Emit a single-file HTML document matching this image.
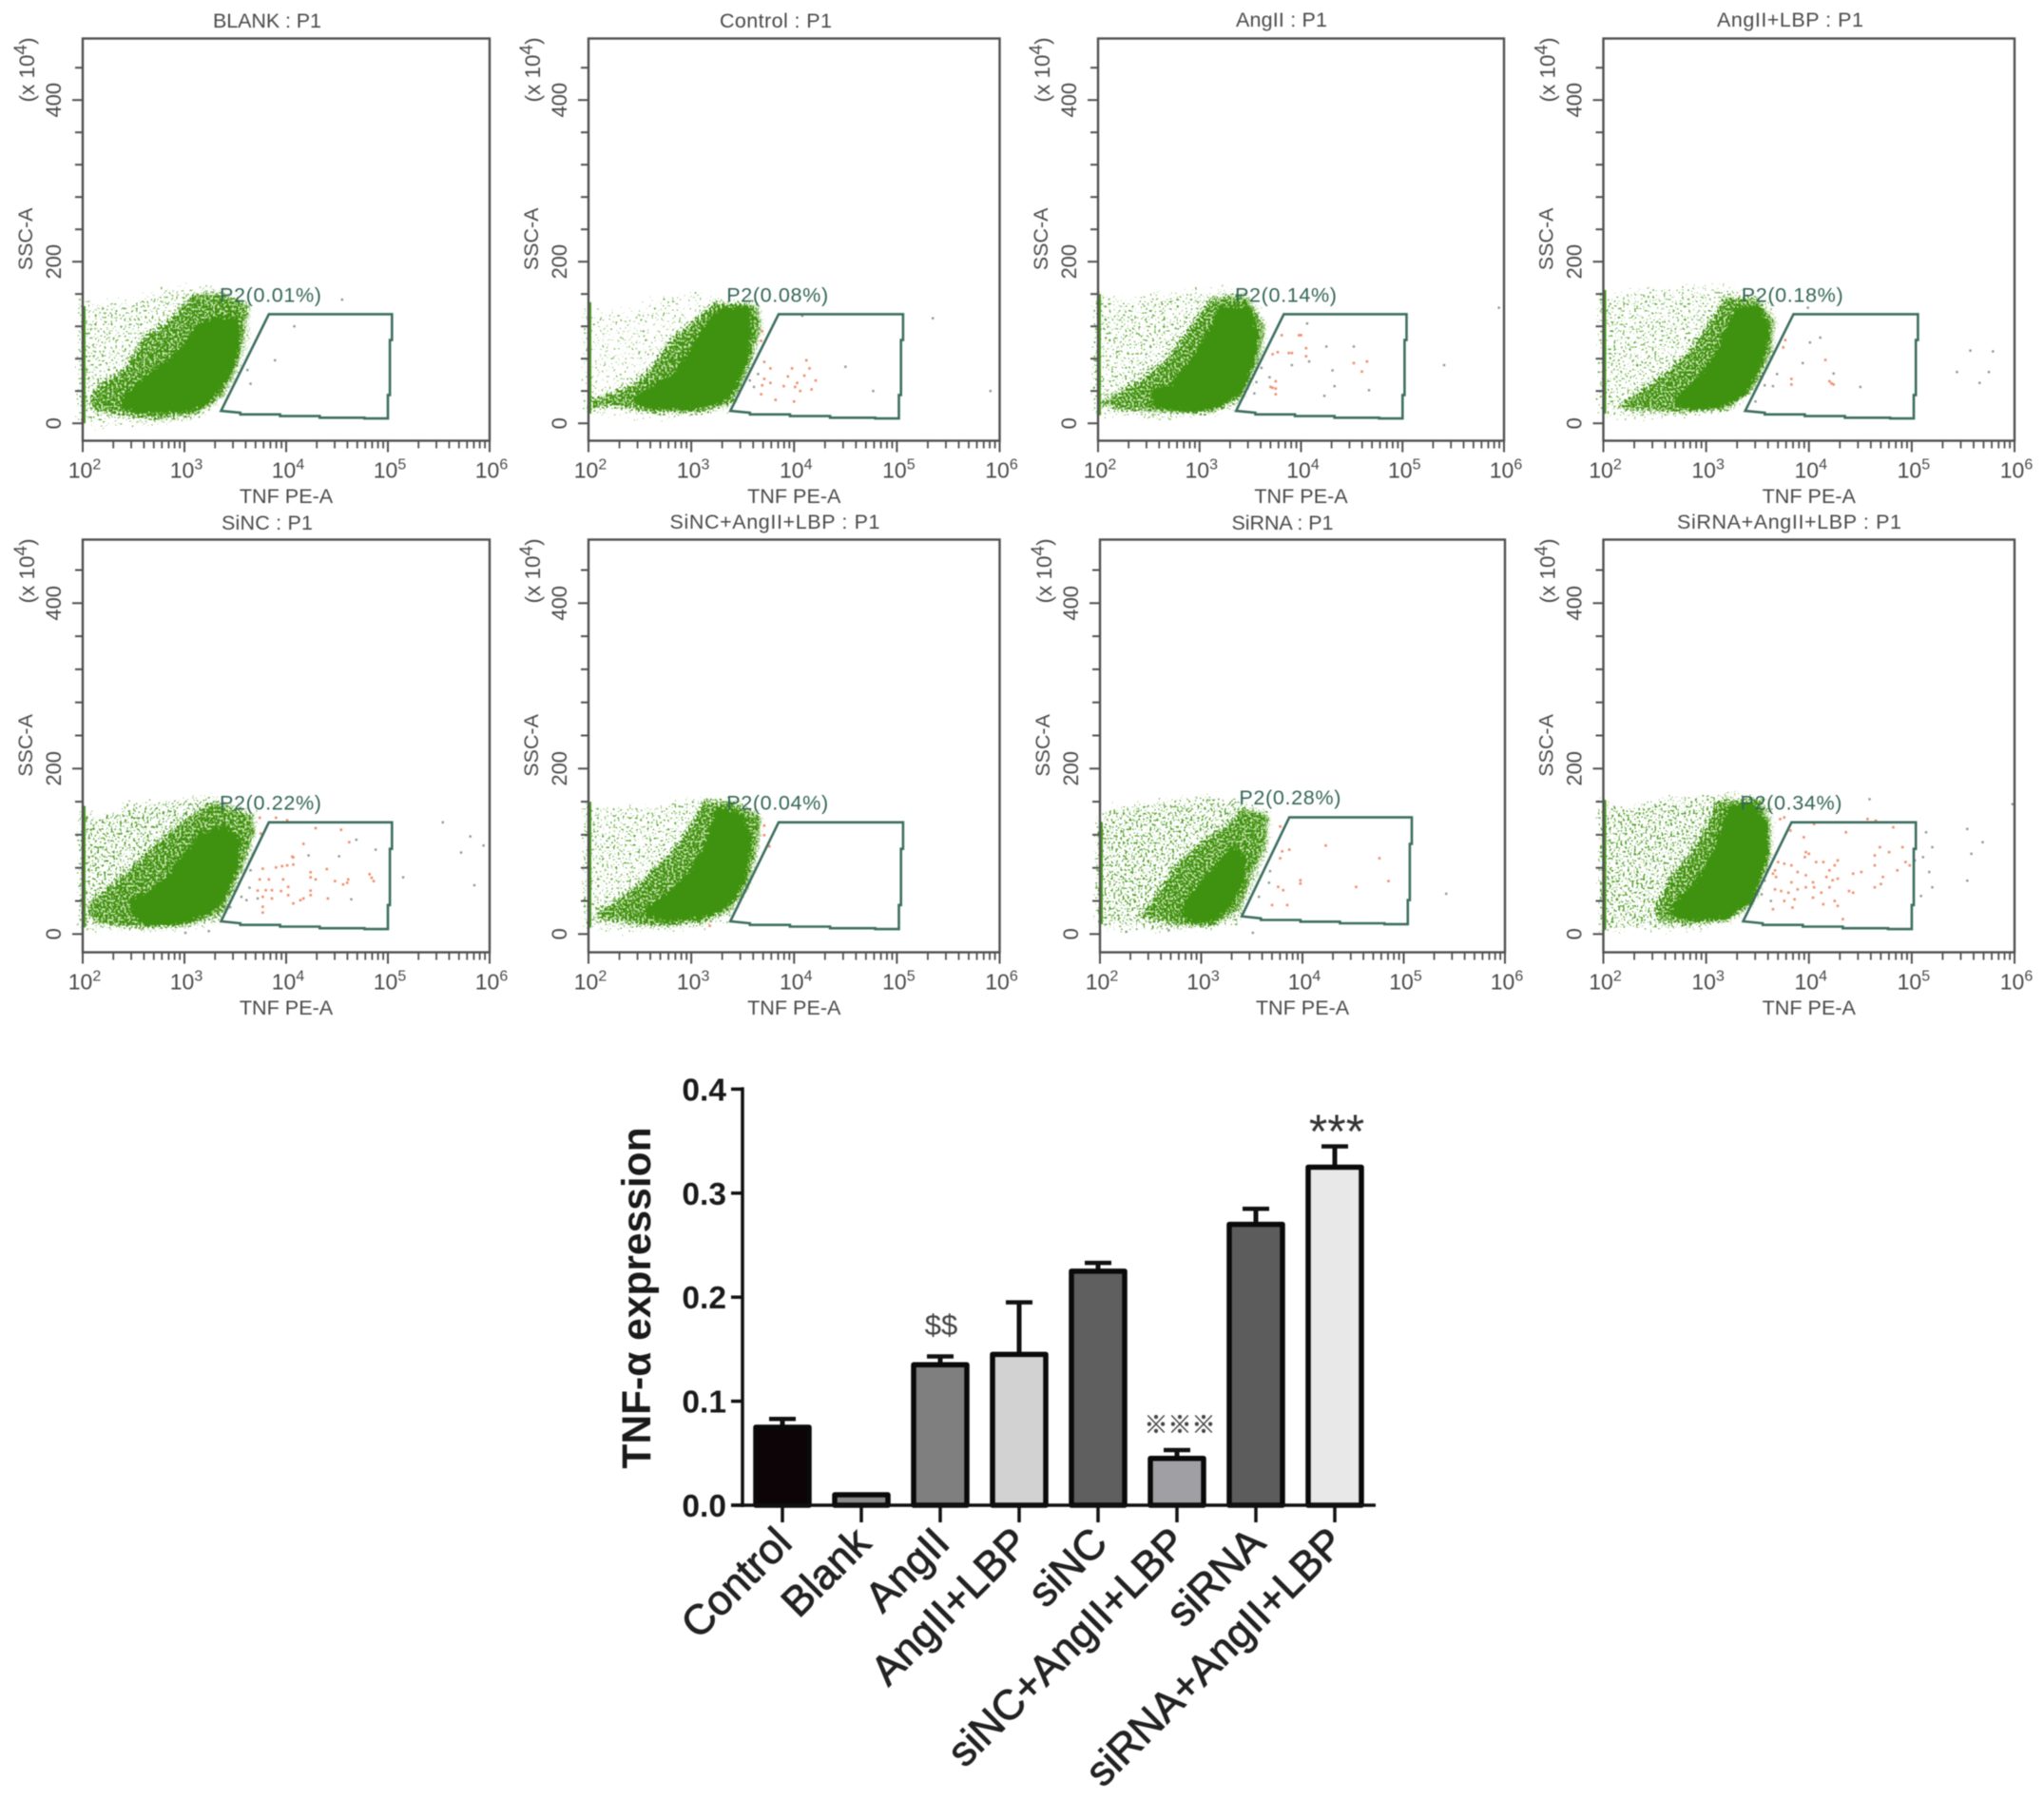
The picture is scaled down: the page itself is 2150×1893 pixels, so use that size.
<!DOCTYPE html>
<html lang="en">
<head>
<meta charset="utf-8">
<title>TNF-α flow cytometry panels and expression chart</title>
<style>
html,body{margin:0;padding:0;background:#fff;width:2150px;height:1893px;overflow:hidden}
#figure{display:block;filter:blur(0.65px)}
text{font-family:"Liberation Sans","Noto Sans CJK SC",sans-serif}
</style>
</head>
<body>
<svg id="figure" xmlns="http://www.w3.org/2000/svg" width="2150" height="1893" viewBox="0 0 2150 1893">
<defs>
<filter id="cloud-low" x="-10%" y="-15%" width="120%" height="130%" color-interpolation-filters="sRGB">
<feTurbulence type="fractalNoise" baseFrequency="0.42" numOctaves="2" seed="7" result="noise"/>
<feDisplacementMap in="SourceGraphic" in2="noise" scale="26" xChannelSelector="R" yChannelSelector="G" result="shape"/>
<feColorMatrix in="noise" type="matrix" values="0 0 0 0 .36  0 0 0 0 .66  0 0 0 0 .2  18 0 0 0 -11.9" result="dots"/>
<feComposite in="dots" in2="shape" operator="in"/>
</filter>
<filter id="cloud-medium" x="-10%" y="-15%" width="120%" height="130%" color-interpolation-filters="sRGB">
<feTurbulence type="fractalNoise" baseFrequency="0.42" numOctaves="2" seed="11" result="noise"/>
<feDisplacementMap in="SourceGraphic" in2="noise" scale="26" xChannelSelector="R" yChannelSelector="G" result="shape"/>
<feColorMatrix in="noise" type="matrix" values="0 0 0 0 .36  0 0 0 0 .66  0 0 0 0 .2  18 0 0 0 -11.1" result="dots"/>
<feComposite in="dots" in2="shape" operator="in"/>
</filter>
<filter id="cloud-high" x="-10%" y="-15%" width="120%" height="130%" color-interpolation-filters="sRGB">
<feTurbulence type="fractalNoise" baseFrequency="0.42" numOctaves="2" seed="19" result="noise"/>
<feDisplacementMap in="SourceGraphic" in2="noise" scale="26" xChannelSelector="R" yChannelSelector="G" result="shape"/>
<feColorMatrix in="noise" type="matrix" values="0 0 0 0 .33  0 0 0 0 .63  0 0 0 0 .17  18 0 0 0 -10.3" result="dots"/>
<feComposite in="dots" in2="shape" operator="in"/>
</filter>
<filter id="cloud-mid" x="-10%" y="-15%" width="120%" height="130%" color-interpolation-filters="sRGB">
<feTurbulence type="fractalNoise" baseFrequency="0.45" numOctaves="2" seed="23" result="noise"/>
<feDisplacementMap in="SourceGraphic" in2="noise" scale="20" xChannelSelector="R" yChannelSelector="G" result="shape"/>
<feFlood flood-color="#cfe6b8" result="pale"/>
<feComposite in="pale" in2="shape" operator="in" result="paleShape"/>
<feColorMatrix in="noise" type="matrix" values="0 0 0 0 .25  0 0 0 0 .57  0 0 0 0 .06  18 0 0 0 -7.4" result="dots"/>
<feComposite in="dots" in2="shape" operator="in" result="dotShape"/>
<feMerge><feMergeNode in="paleShape"/><feMergeNode in="dotShape"/></feMerge>
</filter>
<filter id="cloud-core" x="-10%" y="-15%" width="120%" height="130%" color-interpolation-filters="sRGB">
<feTurbulence type="fractalNoise" baseFrequency="0.4" numOctaves="2" seed="31" result="noise"/>
<feDisplacementMap in="SourceGraphic" in2="noise" scale="12" xChannelSelector="R" yChannelSelector="G"/>
</filter>
</defs>
<g id="panels"></g>
<g id="bars"></g>
</svg>
<script>
/* ---------- flow cytometry data: x = log10(TNF PE-A), y = SSC-A (x10^4) ---------- */
const panelTitles = ["BLANK : P1","Control : P1","AngII : P1","AngII+LBP : P1","SiNC : P1","SiNC+AngII+LBP : P1","SiRNA : P1","SiRNA+AngII+LBP : P1"];
const gatePercents = ["0.01","0.08","0.14","0.18","0.22","0.04","0.28","0.34"];
const xTickPowers = [2,3,4,5,6];
const yTickLabels = [0,200,400];
const yMinorStep = [0,40,80,120,160,200,240,280,320,360,400,440];
const xMinorMultipliers = [2,3,4,5,6,7,8,9];
const gateBase = [[3.83,135],[5.04,135],[5.04,103],[5.02,103],[5.02,35],[5.00,35],[5.00,6],[4.77,6],[4.77,7],[4.33,7],[4.33,9],[3.94,9],[3.94,11],[3.55,11],[3.55,13],[3.36,15.4]];
const gateShiftX = [0,0.02,0,0.02,0,0.02,0.04,0];
const gateShiftY = [0,0,0,0,0,0,6,0];
const speckleLevels = ["medium","low","medium","medium","high","medium","high","high"];
const edgeSpans = [[0,145],[12,150],[10,160],[12,165],[8,155],[8,160],[12,135],[5,162]];

const coreOutlines = [
 [[2.38,29.6],[2.54,50],[2.80,74],[2.99,94],[3.12,119],[3.31,131],[3.51,129],[3.54,102.5],[3.49,74],[3.38,50],[3.25,27.5],[3.09,17],[2.80,14],[2.54,15],[2.40,19]],
 [[2.46,33],[2.62,45],[2.84,61],[2.97,88],[3.13,120],[3.29,141],[3.55,143],[3.58,112],[3.53,76],[3.42,41],[3.29,25.5],[2.97,18.4],[2.62,18.4],[2.46,27.5]],
 [[2.54,41],[2.72,47],[2.91,76],[3.11,116],[3.20,143],[3.49,143],[3.57,108],[3.53,76],[3.40,37],[3.20,21.5],[2.95,15],[2.56,19.6]],
 [[2.70,29],[2.90,53],[3.12,88],[3.25,131],[3.32,143],[3.53,143],[3.61,112],[3.54,76],[3.38,37],[3.15,21.5],[2.90,17.6],[2.74,21.5]],
 [[2.48,41],[2.64,48.7],[2.83,68],[2.99,95],[3.15,121],[3.41,129],[3.54,114],[3.51,79],[3.38,41],[3.19,22],[2.93,12],[2.61,12],[2.49,25.7]],
 [[2.55,29.5],[2.78,48.7],[2.97,71.6],[3.13,106],[3.26,152],[3.49,144],[3.58,114],[3.52,68],[3.39,37],[3.16,22],[2.78,16],[2.59,22]],
 [[2.83,37],[2.99,60],[3.18,87],[3.31,106],[3.44,91],[3.41,64],[3.28,33],[3.12,18],[2.93,14],[2.83,22]],
 [[2.66,32],[2.86,56],[3.02,85],[3.15,121],[3.21,153],[3.44,157],[3.59,133],[3.59,93],[3.44,40],[3.21,20],[2.89,18],[2.70,22]]
];
const midOutlines = [
 [[2.06,25.5],[2.15,46],[2.41,66],[2.61,106.5],[2.86,127],[3.09,159],[3.35,161],[3.64,147],[3.59,102.5],[3.51,66],[3.38,33.6],[3.12,11],[2.73,5],[2.38,11],[2.12,17]],
 [[2.02,29],[2.23,37],[2.46,49],[2.62,69],[2.81,104],[3.07,131],[3.23,149],[3.65,147],[3.68,116],[3.58,73],[3.42,25.5],[3.10,14],[2.62,14],[2.23,22],[2.02,18]],
 [[2.01,25.5],[2.14,33],[2.46,57],[2.69,80],[2.91,120],[3.14,155],[3.46,159],[3.65,120],[3.59,80],[3.43,33],[3.14,14],[2.65,14],[2.17,18]],
 [[2.15,21.5],[2.38,41],[2.64,65],[2.86,92],[3.03,123],[3.19,155],[3.48,155],[3.67,127],[3.64,88],[3.48,45],[3.22,17.6],[2.74,14],[2.22,17.6]],
 [[2.04,29.5],[2.15,45],[2.45,75.5],[2.70,106],[2.99,137],[3.28,160],[3.67,144],[3.70,125],[3.57,79],[3.38,25.7],[2.99,10],[2.48,8.4],[2.15,14]],
 [[2.07,25.7],[2.30,41],[2.52,64],[2.78,95],[2.97,125],[3.13,160],[3.42,160],[3.68,141],[3.65,102],[3.55,56],[3.39,29.5],[3.10,14],[2.62,10],[2.14,18]],
 [[2.41,22],[2.57,48.7],[2.76,83],[2.99,110],[3.28,133],[3.41,152],[3.67,144],[3.64,106],[3.51,72],[3.38,29.5],[3.12,10],[2.73,12]],
 [[2.50,28],[2.66,68.5],[2.83,93],[2.99,125],[3.12,161],[3.54,163],[3.63,133],[3.63,93],[3.47,40],[3.21,16],[2.83,12],[2.57,16]]
];
const sparseOutlines = [
 [[2,-3],[2,150],[2.2,145],[2.6,150],[2.85,165],[3.35,165],[3.65,150],[3.7,110],[3.55,50],[3.2,8],[2.7,0],[2.3,0]],
 [[2,15],[2,145],[2.1,135],[2.5,140],[2.8,160],[3.25,160],[3.7,150],[3.7,90],[3.4,15],[2.6,8]],
 [[2,15],[2,160],[2.3,150],[2.6,160],[2.95,160],[3.3,165],[3.65,140],[3.7,90],[3.4,20],[2.7,8],[2.3,10]],
 [[2,15],[2,155],[2.25,160],[2.8,165],[3.2,170],[3.7,150],[3.7,100],[3.4,25],[2.7,8],[2.15,10]],
 [[2,8],[2,150],[2.2,140],[2.5,155],[3,160],[3.3,165],[3.75,145],[3.7,100],[3.4,15],[2.7,5],[2.2,8]],
 [[2,8],[2,155],[2.15,150],[2.8,155],[3.2,165],[3.7,145],[3.7,100],[3.4,15],[2.7,5],[2.2,8]],
 [[2,10],[2,135],[2.15,150],[2.5,155],[3.1,165],[3.4,160],[3.7,145],[3.7,100],[3.4,15],[2.9,5],[2.3,10]],
 [[2,5],[2,160],[2.25,150],[2.6,160],[3.0,165],[3.3,170],[3.68,150],[3.65,90],[3.4,25],[2.9,8],[2.3,8]]
];
const redEvents = [
 [],
 [[3.69,114],[3.68,102],[3.71,76],[3.77,68],[3.98,68],[4.15,68],[3.94,58],[4.10,59],[4.21,53],[3.71,55],[3.69,47],[3.77,50],[3.90,46],[4.03,50],[4.01,45],[4.06,40],[4.17,42],[3.68,36],[3.82,29],[4.00,27],[4.12,78]],
 [[3.72,85.5],[3.77,88],[3.88,87],[3.91,87],[3.81,109],[3.98,109],[4.00,109],[4.05,93],[4.05,83],[4.52,74.5],[4.65,76.5],[4.60,64],[3.75,52],[3.72,44],[3.75,43],[3.75,36],[3.70,45]],
 [[3.77,103],[3.75,94],[3.83,55],[3.83,48],[4.16,78.4],[4.22,49.4],[4.24,48],[4.20,52]],
 [[3.74,140.6],[3.90,140.6],[4.01,137.5],[3.75,121.5],[4.29,128],[4.54,126],[4.17,109],[4.62,111],[4.06,93.5],[4.07,92.7],[4.40,78.5],[3.90,80.5],[3.96,82],[4.01,83],[4.07,84],[3.77,79],[4.24,74.7],[3.74,66],[3.83,66],[3.97,66],[4.24,68.6],[4.29,66],[4.48,64],[4.56,60],[4.61,66],[4.60,62],[4.82,72.4],[4.84,68],[4.86,64],[3.72,52.5],[3.80,53],[3.86,53],[3.95,52],[4.02,57],[4.24,52.5],[3.77,45],[3.86,43],[4.02,47],[4.14,41],[4.17,43],[4.07,37],[4.24,47],[4.41,43],[3.77,33],[3.77,26]],
 [[3.71,131],[3.71,119.5],[3.76,106],[3.18,10]],
 [[3.78,130],[3.87,102],[3.80,100],[3.78,91.6],[4.76,91.6],[4.23,107],[3.98,65],[3.98,61],[3.76,57],[3.81,53],[4.53,57],[4.85,64],[3.70,35],[3.85,35]],
 [[3.72,139],[3.76,141],[3.82,125],[4.05,133],[4.36,123],[4.57,139],[4.65,137],[4.82,129],[3.95,117],[3.97,99],[4.00,97],[4.69,105],[4.91,105],[4.78,99],[4.64,95],[3.96,93],[4.07,87],[4.14,87],[4.28,89],[4.25,83],[4.20,77],[4.94,87],[4.98,83],[4.86,77],[4.64,83],[4.51,75],[4.43,73],[3.70,87],[3.76,85],[3.83,83],[3.89,75],[3.97,71],[3.67,77],[3.65,73],[3.68,69],[3.83,62.5],[4.04,62.5],[4.17,69],[4.23,65],[4.28,67],[4.20,56.5],[4.72,69],[4.64,56.5],[4.70,60.5],[4.39,52],[4.43,50],[3.67,54],[3.73,52],[3.80,50],[3.89,54],[3.97,56.5],[3.76,40],[3.86,42],[4.04,44],[4.14,36],[4.25,40],[4.28,34],[3.84,32],[3.65,30],[4.33,18],[4.05,56.5],[4.12,50]]
];
const greyEvents = [
 [[4.08,120],[3.89,78],[3.65,49],[3.62,66],[4.55,153]],
 [[4.50,70],[4.77,40],[5.35,130],[5.91,40],[4.08,133],[3.57,53],[3.61,45],[3.65,61]],
 [[4.06,123.5],[4.25,95],[4.52,95],[4.08,76.5],[3.91,72],[4.31,65.5],[4.33,46],[4.23,34],[4.67,41],[5.41,72],[5.95,143],[3.61,68.6],[3.56,51],[3.69,57],[3.54,37]],
 [[4.01,100],[4.11,106],[3.94,74.5],[4.24,61.6],[4.50,45],[5.57,90],[5.79,89],[5.44,63.5],[5.75,63.5],[5.66,50],[3.69,61],[3.57,47],[3.65,46],[3.48,27],[3.99,143]],
 [[4.22,95],[4.52,94],[4.88,102],[4.69,114],[5.15,68.6],[5.54,135],[5.81,118],[5.94,107],[5.72,98.5],[5.85,59],[4.64,42],[3.65,77],[3.64,56],[3.56,45],[3.45,32.5],[3.72,43],[3.61,41],[3.01,1.5],[3.24,3.5]],
 [],
 [[5.42,48.7],[3.51,1.5],[2.26,2.7],[2.68,4.6],[3.68,76],[3.57,45],[3.67,62]],
 [[5.14,123],[5.20,105],[5.03,89],[5.11,93],[5.17,75],[5.09,46],[5.20,56.5],[5.54,127],[5.69,111],[5.58,97],[5.54,64.5],[4.59,163],[5.98,157],[3.57,64.5],[3.54,48],[3.63,40]]
];

/* ---------- bar chart data ---------- */
const barCategories = ["Control","Blank","AngII","AngII+LBP","siNC","siNC+AngII+LBP","siRNA","siRNA+AngII+LBP"];
const barValues = [0.075,0.01,0.135,0.145,0.225,0.045,0.27,0.325];
const barErrors = [0.008,0,0.008,0.05,0.008,0.008,0.015,0.02];
const barTickLabels = ["0.0","0.1","0.2","0.3","0.4"];
const barTickValues = [0,0.1,0.2,0.3,0.4];

/* ---------- layout ---------- */
const NS = "http://www.w3.org/2000/svg";
const panelLeft = [87,619,1155,1686.5,87,619,1157,1686.5];
const panelRight = [515,1051.5,1582,2119,515,1051.5,1583,2119];
const titleCenter = [281,816,1348,1883,281,815,1349,1882];
const titleBase = [29,29,28,28,557,556,557,556];
const titleWidth = [114,118,96,154,96,221,107,236];
const rows = [{top:40.5,bot:463.5,y0:445.2,k:0.85},{top:567.5,bot:1001.5,y0:982.3,k:0.87}];
const INK = "#4a4a4a";
const LABEL_GREEN = "#336656";

function mk(tag, attrs, parent, txt){
  const e = document.createElementNS(NS, tag);
  for (const a in attrs) e.setAttribute(a, attrs[a]);
  if (txt !== undefined) e.textContent = txt;
  if (parent) parent.appendChild(e);
  return e;
}
function polyPoints(list, sx, sy, dx, dy){
  return list.map(p => sx(p[0] + (dx||0)).toFixed(1) + "," + sy(p[1] + (dy||0)).toFixed(1)).join(" ");
}

const panelsRoot = document.getElementById("panels");
panelTitles.forEach((title, i) => {
  const row = rows[i < 4 ? 0 : 1];
  const L = panelLeft[i], R = panelRight[i];
  const sx = v => L + (v - 2) * (R - L) / 4;
  const sy = v => row.y0 - v * row.k;
  const g = mk("g", {}, panelsRoot);
  
  

  const titleEl = mk("text", {x:titleCenter[i], y:titleBase[i], "text-anchor":"middle", "font-size":21.5, textLength:titleWidth[i], lengthAdjust:"spacing", fill:INK}, g, title);
  
  

  const sparse = mk("polygon", {points:polyPoints(sparseOutlines[i], sx, sy), fill:"#000", filter:"url(#cloud-" + speckleLevels[i] + ")"}, g);
  
  
  const mid = mk("polygon", {points:polyPoints(midOutlines[i], sx, sy), fill:"#000", filter:"url(#cloud-mid)"}, g);
  
  
  const core = mk("polygon", {points:polyPoints(coreOutlines[i], sx, sy), fill:"#3f9210", stroke:"#3f9210", "stroke-width":3, "stroke-linejoin":"round", filter:"url(#cloud-core)"}, g);
  
  

  const edge = mk("line", {x1:sx(2)+1.5, x2:sx(2)+1.5, y1:sy(edgeSpans[i][0]), y2:sy(edgeSpans[i][1]), stroke:"#4f9c24", "stroke-width":3}, g);
  
  

  greyEvents[i].forEach(p => {
    const d = mk("rect", {x:sx(p[0])-1.2, y:sy(p[1])-1.2, width:2.4, height:2.4, fill:"#8a9992"}, g);
    
    
  });
  redEvents[i].forEach(p => {
    const d = mk("rect", {x:sx(p[0])-1.3, y:sy(p[1])-1.3, width:2.6, height:2.6, fill:"#ee8f6c"}, g);
    
    
  });

  const gate = mk("polygon", {points:polyPoints(gateBase, sx, sy, gateShiftX[i], gateShiftY[i]), fill:"none", stroke:"#3d6f60", "stroke-width":2.6, "stroke-linejoin":"miter"}, g);
  
  

  const gateLabel = mk("text", {x:L + 144 + gateShiftX[i]*60, y:sy(150.5 + gateShiftY[i]), "font-size":21.6, textLength:107, lengthAdjust:"spacing", fill:LABEL_GREEN}, g, "P2(" + gatePercents[i] + "%)");
  
  

  const frame = mk("rect", {x:L, y:row.top, width:R-L, height:row.bot-row.top, fill:"none", stroke:"#505050", "stroke-width":2.4}, g);
  
  

  yMinorStep.forEach(v => {
    const isMajor = yTickLabels.indexOf(v) >= 0;
    const t = mk("line", {x1:L - (isMajor ? 11 : 8), x2:L, y1:sy(v), y2:sy(v), stroke:"#505050", "stroke-width":2}, g);
    
    
  });
  yTickLabels.forEach(v => {
    const x = L - 23, y = sy(v);
    const t = mk("text", {x:x, y:y, transform:"rotate(-90 " + x + " " + y + ")", "text-anchor":"middle", "font-size":22, fill:INK}, g, String(v));
    
    
  });
  const ssX = L - 53, ssY = sy(228);
  const ssc = mk("text", {x:ssX, y:ssY, transform:"rotate(-90 " + ssX + " " + ssY + ")", "text-anchor":"middle", "font-size":21.5, fill:INK}, g, "SSC-A");
  
  
  const scX = L - 51, scY = row.top + 67;
  const scale = mk("text", {x:scX, y:scY, transform:"rotate(-90 " + scX + " " + scY + ")", "font-size":22.5, fill:INK}, g);
  
  
  mk("tspan", {}, scale, "(x 10");
  mk("tspan", {dy:-8, "font-size":19}, scale, "4");
  mk("tspan", {dy:8}, scale, ")");

  xTickPowers.forEach((pw, n) => {
    const t = mk("line", {x1:sx(pw), x2:sx(pw), y1:row.bot, y2:row.bot + 12, stroke:"#505050", "stroke-width":2}, g);
    
    
    const lab = mk("text", {x:sx(pw) + 2, y:row.bot + 39, "text-anchor":"middle", "font-size":23, fill:INK}, g);
    
    
    mk("tspan", {}, lab, "10");
    mk("tspan", {dy:-9, "font-size":16}, lab, String(pw));
    if (n < xTickPowers.length - 1) {
      xMinorMultipliers.forEach(m => {
        const v = pw + Math.log10(m);
        const mt = mk("line", {x1:sx(v), x2:sx(v), y1:row.bot, y2:row.bot + 8, stroke:"#505050", "stroke-width":1.8}, g);
        
        
      });
    }
  });
  const xt = mk("text", {x:(L+R)/2, y:row.bot + 65.5, "text-anchor":"middle", "font-size":21.6, fill:INK}, g, "TNF PE-A");
  
  
});

/* ---------- bar chart ---------- */
const barsRoot = document.getElementById("bars");
const barFills = ["#0c0406","#8a8a8a","#7f7f7f","#d2d2d2","#5f5f5f","#a0a0a4","#5c5c5c","#e8e8e8"];
const barY = v => 1583 - v * 1094;
const barX = i => 823 + i * 83;
const BAR_W = 56;

barValues.forEach((v, i) => {
  const cx = barX(i);
  if (barErrors[i] > 0) {
    const stem = mk("line", {x1:cx, x2:cx, y1:barY(v), y2:barY(v + barErrors[i]), stroke:"#111", "stroke-width":5}, barsRoot);
    
    
    const cap = mk("line", {x1:cx-14, x2:cx+14, y1:barY(v + barErrors[i]), y2:barY(v + barErrors[i]), stroke:"#111", "stroke-width":4.5}, barsRoot);
    
    
  }
  const b = mk("rect", {x:cx - BAR_W/2, y:barY(v), width:BAR_W, height:barY(0) - barY(v), fill:barFills[i], stroke:"#0a0a0a", "stroke-width":5.5, "stroke-linejoin":"round"}, barsRoot);
  
  

  const tick = mk("line", {x1:cx, x2:cx, y1:1583, y2:1601, stroke:"#111", "stroke-width":3.5}, barsRoot);
  
  

  const ax = cx + 12, ay = 1625;
  const lab = mk("text", {x:ax, y:ay, transform:"rotate(-45 " + ax + " " + ay + ")", "text-anchor":"end", "font-size":44, fill:"#222", stroke:"#222", "stroke-width":0.9}, barsRoot, barCategories[i]);
  
  
});

barTickValues.forEach((v, i) => {
  const t = mk("line", {x1:769, x2:782, y1:barY(v), y2:barY(v), stroke:"#111", "stroke-width":3.5}, barsRoot);
  
  
  const l = mk("text", {x:764, y:barY(v) + 12, "text-anchor":"end", "font-size":33.5, "font-weight":"bold", fill:"#1a1a1a"}, barsRoot, barTickLabels[i]);
  
  
});

const yAxisLine = mk("line", {x1:781, x2:781, y1:barY(0.4) - 2, y2:1585, stroke:"#111", "stroke-width":3.5}, barsRoot);


const xAxisLine = mk("line", {x1:769, x2:1447, y1:1583, y2:1583, stroke:"#111", "stroke-width":3.5}, barsRoot);



const yt = mk("text", {x:684, y:1365, transform:"rotate(-90 684 1365)", "text-anchor":"middle", "font-size":42.5, "font-weight":"bold", fill:"#1a1a1a"}, barsRoot, "TNF-α expression");



const sigDollar = mk("text", {x:990, y:1404, "text-anchor":"middle", "font-size":31, fill:"#444"}, barsRoot, "$$");


const sigRef = mk("text", {x:1241, y:1507, "text-anchor":"middle", "font-size":25, fill:"#444", stroke:"#444", "stroke-width":0.4}, barsRoot, "※※※");


const sigStar = mk("text", {x:1406, y:1207, "text-anchor":"middle", "font-size":50, fill:"#333"}, barsRoot, "***");


</script>
</body>
</html>
